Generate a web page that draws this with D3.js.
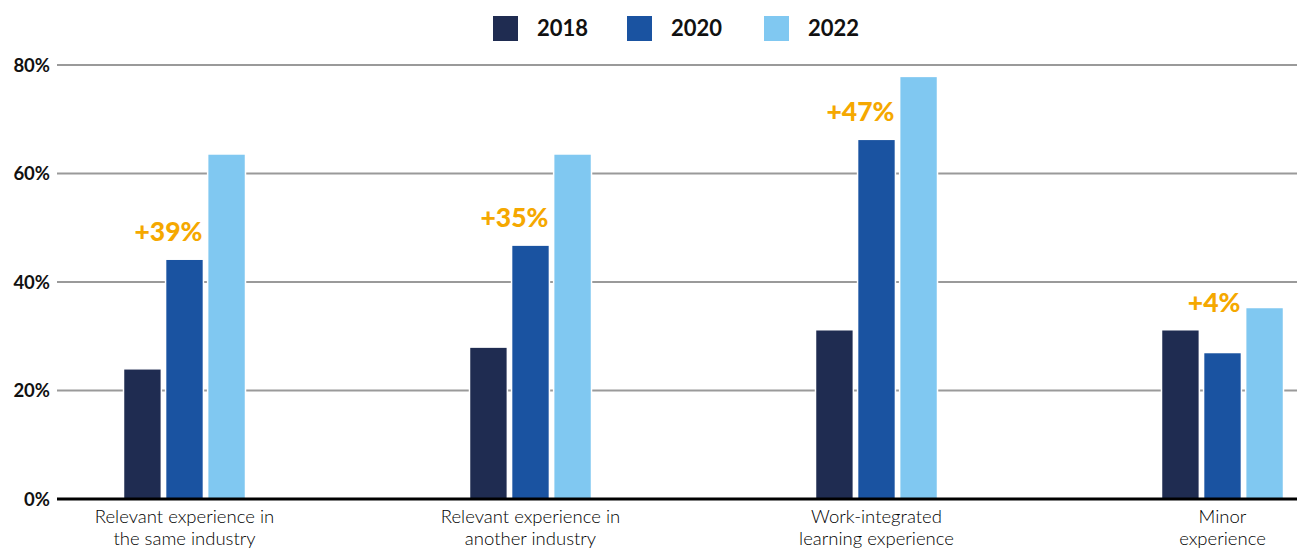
<!DOCTYPE html>
<html><head><meta charset="utf-8">
<script src="https://cdn.jsdelivr.net/npm/d3@7"></script>
<style>
html,body{margin:0;padding:0;background:#fff;}
svg{display:block;font-family:Lato,"Open Sans",sans-serif;}
</style></head>
<body><svg id="chart" width="1297" height="552"></svg>
<script>
const categories = [["Relevant experience in","the same industry"],["Relevant experience in","another industry"],["Work-integrated","learning experience"],["Minor","experience"]];
const years = ["2018","2020","2022"];
const values2018 = [24, 28, 31.2, 31.2];
const values2020 = [44.2, 46.8, 66.3, 27];
const values2022 = [63.6, 63.6, 77.9, 35.3];
const changeLabels = ["+39%","+35%","+47%","+4%"];
const yTicks = [0, 20, 40, 60, 80];
const colors = ["#1F2C51","#1A53A1","#80C8F1"];

const series = [values2018, values2020, values2022];
const svg = d3.select("#chart");
const W = 1297, H = 552;
const x0 = d3.scalePoint().domain(d3.range(categories.length)).range([184.5, 1222.5]);
const x1 = d3.scaleBand().domain(years).range([-61, 61]).paddingInner(0.1).paddingOuter(0);
const y = d3.scaleLinear().domain([0, 80]).range([499, 65]);

// gridlines
svg.append("g").selectAll("line").data(yTicks.filter(t => t > 0)).join("line")
  .attr("x1", 57).attr("x2", W).attr("y1", d => y(d)).attr("y2", d => y(d))
  .attr("stroke", "#9a9a9a").attr("stroke-width", 2);

// y tick labels
svg.append("g").selectAll("text").data(yTicks).join("text")
  .attr("x", 50).attr("y", d => y(d) + 6.5)
  .attr("text-anchor", "end").attr("font-size", 18.5).attr("font-weight", 700)
  .attr("fill", "#111").text(d => d + "%");

// bars
const groups = svg.append("g").selectAll("g").data(categories).join("g")
  .attr("transform", (d, i) => `translate(${x0(i)},0)`);
groups.selectAll("rect").data((d, i) => years.map((yr, j) => ({yr, v: series[j][i], j}))).join("rect")
  .attr("x", d => x1(d.yr)).attr("width", x1.bandwidth())
  .attr("y", d => y(d.v)).attr("height", d => y(0) - y(d.v))
  .attr("fill", d => colors[d.j]).attr("stroke", "#fff").attr("stroke-width", 1.5);

// change annotations
groups.append("text")
  .attr("x", x1("2020") + x1.bandwidth() - 1)
  .attr("y", (d, i) => y(Math.max(values2018[i], values2020[i])) - 18)
  .attr("text-anchor", "end").attr("font-size", 26.5).attr("font-weight", 900)
  .attr("fill", "#F5A800").text((d, i) => changeLabels[i]);

// baseline axis
svg.append("line").attr("x1", 57).attr("x2", W).attr("y1", y(0)).attr("y2", y(0))
  .attr("stroke", "#000").attr("stroke-width", 3);

// category labels
groups.append("text").attr("text-anchor", "middle").attr("font-size", 18.5)
  .attr("fill", "#000").attr("font-weight", 300)
  .selectAll("tspan").data(d => d).join("tspan")
  .attr("x", 0).attr("y", (d, k) => 523 + k * 22).text(d => d);

// legend
const legendX = [493, 627, 764];
const lg = svg.append("g").selectAll("g").data(years).join("g")
  .attr("transform", (d, i) => `translate(${legendX[i]},16)`);
lg.append("rect").attr("width", 25).attr("height", 25).attr("fill", (d, i) => colors[i]);
lg.append("text").attr("x", 44).attr("y", 20).attr("font-size", 22).attr("font-weight", 700)
  .attr("fill", "#111").text(d => d);
</script>
</body></html>
